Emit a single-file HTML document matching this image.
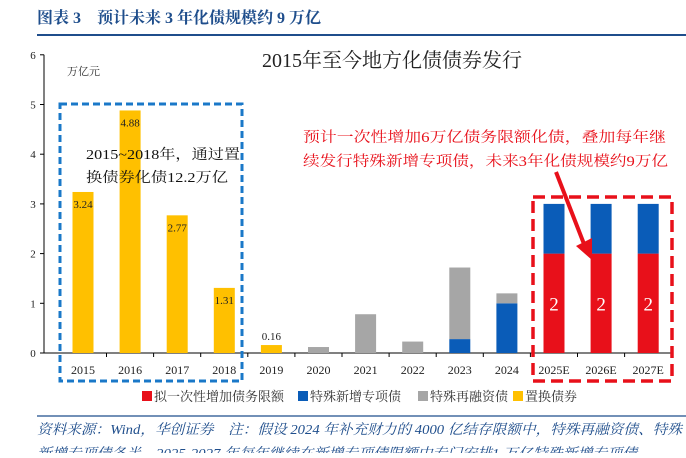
<!DOCTYPE html>
<html><head><meta charset="utf-8">
<style>
body{margin:0;background:#fff;}
svg text{font-family:"Liberation Serif","Noto Serif CJK SC",serif;}
</style></head>
<body>
<svg width="686" height="453" xmlns="http://www.w3.org/2000/svg">
<text x="37" y="23" font-size="16" font-weight="bold" fill="#1f4e8c">图表 3　预计未来 3 年化债规模约 9 万亿</text>
<line x1="37" y1="35" x2="686" y2="35" stroke="#1f4e8c" stroke-width="2"/>
<text x="392" y="67" font-size="20" text-anchor="middle" fill="#222">2015年至今地方化债债券发行</text>
<text x="67" y="75" font-size="11" fill="#333">万亿元</text>
<g id="axes"></g>
<g id="bars"></g>
<rect x="60" y="104" width="182" height="277" fill="none" stroke="#1a78c8" stroke-width="3" stroke-dasharray="7,4"/>
<rect x="533" y="197" width="139" height="184" fill="none" stroke="#e8101a" stroke-width="3.5" stroke-dasharray="12,6"/>
<text x="86" y="159" font-size="14" fill="#111" textLength="154" lengthAdjust="spacingAndGlyphs">2015~2018年，通过置</text>
<text x="86" y="182" font-size="14" fill="#111" textLength="142" lengthAdjust="spacingAndGlyphs">换债券化债12.2万亿</text>
<text x="303" y="142" font-size="14.5" fill="#e8101a" textLength="363" lengthAdjust="spacingAndGlyphs">预计一次性增加6万亿债务限额化债，叠加每年继</text>
<text x="303" y="166" font-size="14.5" fill="#e8101a" textLength="365" lengthAdjust="spacingAndGlyphs">续发行特殊新增专项债，未来3年化债规模约9万亿</text>
<line x1="556" y1="172" x2="584" y2="244" stroke="#e8101a" stroke-width="4"/>
<polygon points="576,246 592,260 592,238" fill="#e8101a"/>
<g id="legend"></g>
<line x1="37" y1="416" x2="686" y2="416" stroke="#1f4e8c" stroke-width="1.2"/>
<text x="37" y="434" font-size="14" font-style="italic" fill="#1f4e8c" textLength="645" lengthAdjust="spacingAndGlyphs">资料来源：Wind，华创证券　注：假设 2024 年补充财力的 4000 亿结存限额中，特殊再融资债、特殊</text>
<text x="37" y="458" font-size="14" font-style="italic" fill="#1f4e8c" textLength="600" lengthAdjust="spacingAndGlyphs">新增专项债各半，2025-2027 年每年继续在新增专项债限额中专门安排1 万亿特殊新增专项债</text>
</svg>
<script>
const categories=["2015","2016","2017","2018","2019","2020","2021","2022","2023","2024","2025E","2026E","2027E"];
const limitIncrease=[0,0,0,0,0,0,0,0,0,0,2,2,2];
const specialNew=[0,0,0,0,0,0,0,0,0.28,1.0,1,1,1];
const specialRefi=[0,0,0,0,0,0.12,0.78,0.23,1.44,0.2,0,0,0];
const replacement=[3.24,4.88,2.77,1.31,0.16,0,0,0,0,0,0,0,0];
const yTicks=[0,1,2,3,4,5,6];
const seriesNames=["拟一次性增加债务限额","特殊新增专项债","特殊再融资债","置换债券"];
const colors=["#e8101a","#0a5cb8","#a6a6a6","#ffc000"];
const NS="http://www.w3.org/2000/svg";
const y=v=>353-v*49.7;
const x=i=>83+i*47.1;
function mk(t,a,p){const e=document.createElementNS(NS,t);for(const k in a)e.setAttribute(k,a[k]);p.appendChild(e);return e;}
const ax=document.getElementById('axes'),bg=document.getElementById('bars'),lg=document.getElementById('legend');
const yl=mk('line',{x1:44,y1:y(6),x2:44,y2:y(0),stroke:'#000'},ax);


const xl=mk('line',{x1:44,y1:y(0),x2:672,y2:y(0),stroke:'#000'},ax);


yTicks.forEach(t=>{
 mk('line',{x1:40,y1:y(t),x2:44,y2:y(t),stroke:'#000'},ax);
 const tx=mk('text',{x:33,y:y(t)+4,'font-size':11,'text-anchor':'middle',fill:'#222'},ax);tx.textContent=t;
 
 
});
categories.forEach((c,i)=>{
 mk('line',{x1:x(i)+23.5,y1:y(0),x2:x(i)+23.5,y2:y(0)+4,stroke:'#000'},ax);
 const tx=mk('text',{x:x(i),y:y(0)+21,'font-size':12,'text-anchor':'middle',fill:'#222'},ax);tx.textContent=c;
 
 
 let base=0;
 [limitIncrease,specialNew,specialRefi,replacement].forEach((s,k)=>{
  const v=s[i];if(!v)return;
  const r=mk('rect',{x:x(i)-10.5,y:y(base+v),width:21,height:y(base)-y(base+v),fill:colors[k]},bg);
  
  
  base+=v;
 });
 if(replacement[i]){
  const yy=replacement[i]>0.5?y(replacement[i])+16:y(replacement[i])-5;
  const l=mk('text',{x:x(i),y:yy,'font-size':11,'text-anchor':'middle',fill:'#222'},bg);l.textContent=replacement[i].toFixed(2);
  
  
 }
 if(limitIncrease[i]){
  const l=mk('text',{x:x(i),y:y(limitIncrease[i]/2)+7,'font-size':19,'text-anchor':'middle',fill:'#fff'},bg);l.textContent=limitIncrease[i];
  
  
 }
});
const lx=[142,298,418,513];
seriesNames.forEach((n,k)=>{
 const r=mk('rect',{x:lx[k],y:391,width:10,height:10,fill:colors[k]},lg);
 
 
 const t=mk('text',{x:lx[k]+12,y:401,'font-size':13,fill:'#333'},lg);t.textContent=n;
 
 
});
</script>
</body></html>
